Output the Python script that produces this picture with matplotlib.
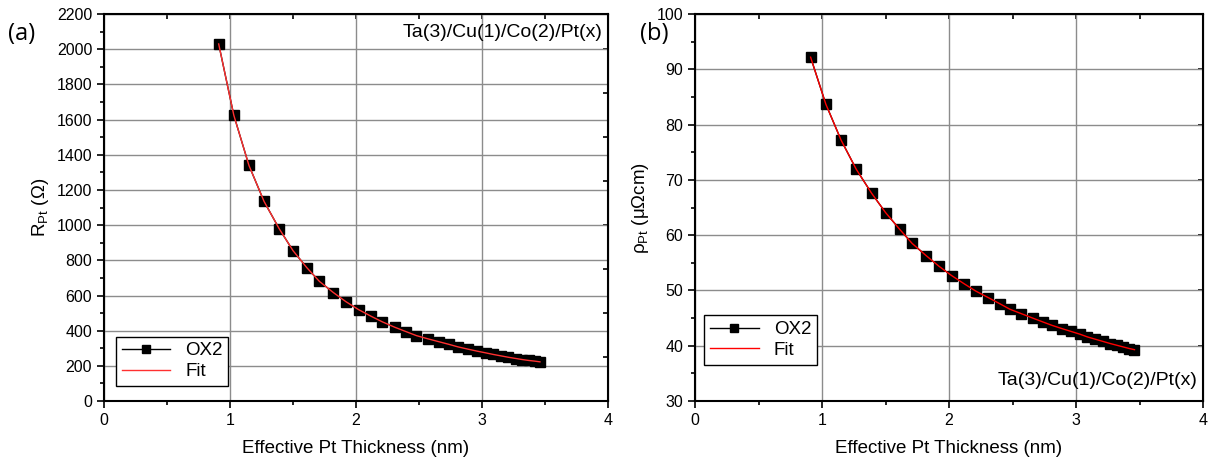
import matplotlib as mpl
mpl.rcParams['font.family'] = ['Liberation Sans', 'DejaVu Sans']
mpl.rcParams['mathtext.fontset'] = 'custom'
mpl.rcParams['mathtext.rm'] = 'Liberation Sans'
mpl.rcParams['mathtext.it'] = 'Liberation Sans'
import matplotlib.pyplot as plt
from matplotlib.ticker import MultipleLocator

# effective Pt thickness (nm)
thickness = [0.91, 1.03, 1.15, 1.27, 1.39, 1.50, 1.61, 1.71, 1.82, 1.92,
             2.02, 2.12, 2.21, 2.31, 2.40, 2.48, 2.57, 2.66, 2.74, 2.81,
             2.89, 2.96, 3.03, 3.09, 3.15, 3.21, 3.27, 3.32, 3.37, 3.42, 3.46]

# sheet resistance of Pt (Ohm)
r_pt = [2030, 1625, 1340, 1135, 980, 855, 758, 680, 617, 565,
        520, 482, 450, 419, 394, 372, 354, 337, 322, 308,
        295, 284, 274, 265, 257, 249, 242, 236, 231, 227, 223]

# resistivity of Pt (uOhm cm)
rho_pt = [92.2, 83.7, 77.2, 71.9, 67.6, 64.1, 61.1, 58.5, 56.3, 54.4,
          52.7, 51.2, 49.9, 48.7, 47.6, 46.6, 45.8, 45.0, 44.3, 43.7,
          43.1, 42.6, 42.1, 41.6, 41.2, 40.8, 40.4, 40.1, 39.8, 39.5, 39.3]

stack = "Ta(3)/Cu(1)/Co(2)/Pt(x)"

fig = plt.figure(figsize=(12.14, 4.68), dpi=100)
ax1 = fig.add_axes([0.0857, 0.143, 0.4151, 0.827])
ax2 = fig.add_axes([0.5725, 0.143, 0.4185, 0.827])


def style(ax, ymax, ymin, ymaj, ymin_step):
    ax.set_xlim(0, 4)
    ax.set_ylim(ymin, ymax)
    ax.xaxis.set_major_locator(MultipleLocator(1))
    ax.xaxis.set_minor_locator(MultipleLocator(0.5))
    ax.yaxis.set_major_locator(MultipleLocator(ymaj))
    ax.yaxis.set_minor_locator(MultipleLocator(ymin_step))
    ax.grid(True, which='major', color='#8c8c8c', lw=1)
    ax.set_axisbelow(True)
    ax.tick_params(which='both', direction='out', labelsize=11.5, width=1.2)
    ax.tick_params(which='major', length=5)
    ax.tick_params(which='minor', length=3)
    ax.secondary_xaxis('top').tick_params(which='both', direction='in',
                                          labeltop=False, width=1.2)
    sy = ax.secondary_yaxis('right')
    sy.tick_params(which='both', direction='in', labelright=False, width=1.2)
    for s in ax.spines.values():
        s.set_linewidth(1.5)
    ax.set_xlabel("Effective Pt Thickness (nm)", fontsize=13.5, labelpad=9)


# left panel
ax1.plot(thickness, r_pt, color='black', lw=1, marker='s', ms=6.5,
         label='OX2')
ax1.plot(thickness, r_pt, color='#ff3030', lw=1, label='Fit')
style(ax1, 2200, 0, 200, 100)
ax1.set_ylabel(r"R$_{\mathregular{Pt}}$ ($\Omega$)", fontsize=13.5)
ax1.text(0.99, 0.975, stack, transform=ax1.transAxes, ha='right', va='top',
         fontsize=14)
leg = ax1.legend(loc='lower left', fontsize=13.5, fancybox=False,
                 edgecolor='black', framealpha=1, handlelength=2.6,
                 markerscale=0.8, borderpad=0.3, labelspacing=0.2,
                 bbox_to_anchor=(0.005, 0.015))
leg.get_frame().set_linewidth(1)

# right panel
ax2.plot(thickness, rho_pt, color='black', lw=1, marker='s', ms=6.5,
         label='OX2')
ax2.plot(thickness, rho_pt, color='red', lw=1, label='Fit')
style(ax2, 100, 30, 10, 5)
ax2.set_ylabel(r"$\rho_{\mathregular{Pt}}$ ($\mu\Omega$cm)", fontsize=13.5)
ax2.text(0.99, 0.03, stack, transform=ax2.transAxes, ha='right', va='bottom',
         fontsize=14)
leg = ax2.legend(loc='lower left', fontsize=13.5, fancybox=False,
                 edgecolor='black', framealpha=1, handlelength=2.6,
                 markerscale=0.8, borderpad=0.3, labelspacing=0.2,
                 bbox_to_anchor=(0.0, 0.07))
leg.get_frame().set_linewidth(1)

fig.text(0.007, 0.915, "(a)", fontsize=17, family=['Open Sans', 'DejaVu Sans'])
fig.text(0.527, 0.915, "(b)", fontsize=17, family=['Open Sans', 'DejaVu Sans'])

fig.savefig("out.png", dpi=100)
